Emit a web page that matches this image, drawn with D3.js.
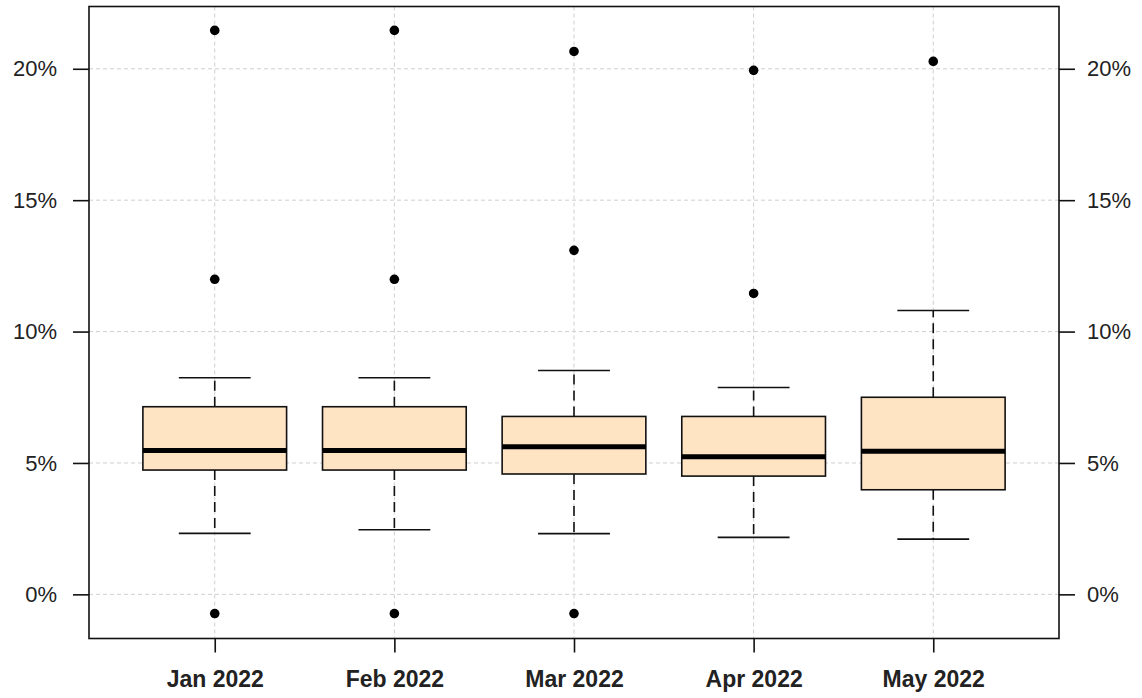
<!DOCTYPE html>
<html>
<head>
<meta charset="utf-8">
<script src="https://cdn.jsdelivr.net/npm/d3@7"></script>
<style>
  html, body { margin: 0; padding: 0; background: #fff; }
  svg { display: block; }
</style>
</head>
<body>
<svg id="chart" width="1142" height="698"></svg>
<script>
// Monthly return distributions (percent)
const months      = ["Jan 2022", "Feb 2022", "Mar 2022", "Apr 2022", "May 2022"];
const whiskerLow  = [2.32, 2.46, 2.31, 2.17, 2.10];
const quartile1   = [4.73, 4.73, 4.58, 4.50, 3.98];
const medians     = [5.47, 5.47, 5.62, 5.24, 5.45];
const quartile3   = [7.14, 7.14, 6.77, 6.77, 7.50];
const whiskerHigh = [8.24, 8.24, 8.52, 7.87, 10.80];
const outliers    = [
  [21.46, 11.99, -0.73],
  [21.46, 11.99, -0.73],
  [20.66, 13.09, -0.73],
  [19.94, 11.45],
  [20.28]
];
const yTicks = [0, 5, 10, 15, 20];

const svg = d3.select("#chart");
const plot = { left: 89, right: 1059, top: 6.5, bottom: 638.5 };

const x = d3.scaleLinear().domain([0.3, months.length + 0.7]).range([plot.left, plot.right]);
const y = d3.scaleLinear().domain([-1.68, 22.37]).range([plot.bottom, plot.top]);

const boxHalf = 0.4, capHalf = 0.2;
const fontFam = "'Liberation Sans', Arial, sans-serif";

// grid
const grid = svg.append("g").attr("stroke", "#cfcfcf").attr("stroke-width", 1).attr("stroke-dasharray", "4,3");
grid.selectAll("line.gy").data(yTicks).join("line")
  .attr("x1", plot.left).attr("x2", plot.right)
  .attr("y1", d => y(d)).attr("y2", d => y(d));
grid.selectAll("line.gx").data(months).join("line")
  .attr("x1", (d, i) => x(i + 1)).attr("x2", (d, i) => x(i + 1))
  .attr("y1", plot.top).attr("y2", plot.bottom);

// boxes
const idx = d3.range(months.length);
const g = svg.append("g");

// dashed whiskers
g.selectAll("line.wh").data(idx).join("line")
  .attr("x1", i => x(i + 1)).attr("x2", i => x(i + 1))
  .attr("y1", i => y(quartile3[i])).attr("y2", i => y(whiskerHigh[i]))
  .attr("stroke", "#111").attr("stroke-width", 1.6).attr("stroke-dasharray", "10,6");
g.selectAll("line.wl").data(idx).join("line")
  .attr("x1", i => x(i + 1)).attr("x2", i => x(i + 1))
  .attr("y1", i => y(quartile1[i])).attr("y2", i => y(whiskerLow[i]))
  .attr("stroke", "#111").attr("stroke-width", 1.6).attr("stroke-dasharray", "10,6");

// whisker caps
[whiskerHigh, whiskerLow].forEach(arr => {
  g.append("g").selectAll("line").data(idx).join("line")
    .attr("x1", i => x(i + 1 - capHalf)).attr("x2", i => x(i + 1 + capHalf))
    .attr("y1", i => y(arr[i])).attr("y2", i => y(arr[i]))
    .attr("stroke", "#111").attr("stroke-width", 1.6);
});

// box bodies
g.selectAll("rect").data(idx).join("rect")
  .attr("x", i => x(i + 1 - boxHalf))
  .attr("width", i => x(i + 1 + boxHalf) - x(i + 1 - boxHalf))
  .attr("y", i => y(quartile3[i]))
  .attr("height", i => y(quartile1[i]) - y(quartile3[i]))
  .attr("fill", "#ffe4c4").attr("stroke", "#111").attr("stroke-width", 1.6);

// medians
g.selectAll("line.med").data(idx).join("line")
  .attr("x1", i => x(i + 1 - boxHalf)).attr("x2", i => x(i + 1 + boxHalf))
  .attr("y1", i => y(medians[i])).attr("y2", i => y(medians[i]))
  .attr("stroke", "#000").attr("stroke-width", 5);

// outliers
const pts = outliers.flatMap((arr, i) => arr.map(v => ({ i, v })));
g.selectAll("circle").data(pts).join("circle")
  .attr("cx", d => x(d.i + 1)).attr("cy", d => y(d.v)).attr("r", 4.8).attr("fill", "#000");

// frame
svg.append("rect")
  .attr("x", plot.left).attr("y", plot.top)
  .attr("width", plot.right - plot.left).attr("height", plot.bottom - plot.top)
  .attr("fill", "none").attr("stroke", "#111").attr("stroke-width", 1.6);

// axes
const fmt = d => d + "%";
const leftAxis = d3.axisLeft(y).tickValues(yTicks).tickFormat(fmt).tickSize(16).tickPadding(16);
const rightAxis = d3.axisRight(y).tickValues(yTicks).tickFormat(fmt).tickSize(16).tickPadding(12);
const bottomAxis = d3.axisBottom(x).tickValues(idx.map(i => i + 1)).tickFormat(v => months[v - 1]).tickSize(14).tickPadding(18);

function styleAxis(sel, bold, size) {
  sel.select(".domain").remove();
  sel.selectAll(".tick line").attr("stroke", "#111").attr("stroke-width", 1.6);
  sel.selectAll(".tick text")
    .attr("fill", "#222")
    .style("font-family", fontFam)
    .style("font-size", size + "px")
    .style("font-weight", bold ? "bold" : "normal");
}

svg.append("g").attr("transform", `translate(${plot.left},0)`).call(leftAxis).call(s => styleAxis(s, false, 22));
svg.append("g").attr("transform", `translate(${plot.right},0)`).call(rightAxis).call(s => styleAxis(s, false, 22));
svg.append("g").attr("transform", `translate(0,${plot.bottom})`).call(bottomAxis).call(s => styleAxis(s, true, 23));
</script>
</body>
</html>
